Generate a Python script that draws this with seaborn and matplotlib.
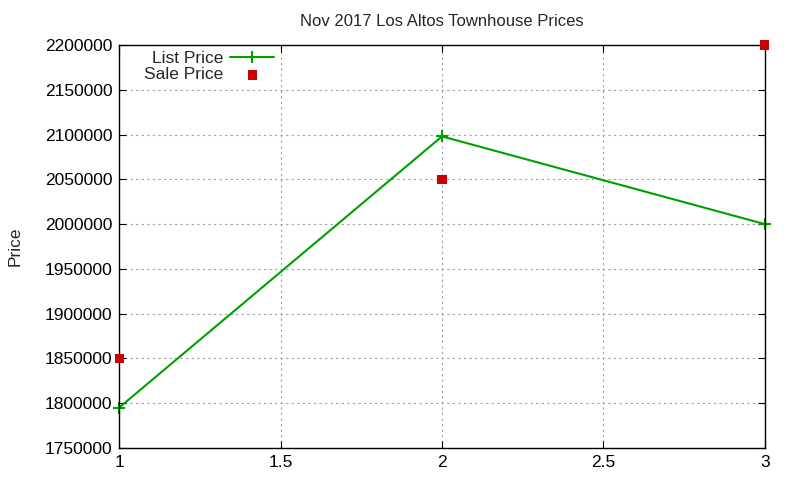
import pandas as pd
import seaborn as sns
import matplotlib.pyplot as plt

x_vals = [1, 2, 3]
list_price = [1795000, 2098000, 2000000]
sale_price = [1850000, 2050000, 2200000]

df = pd.DataFrame({'x': x_vals, 'list': list_price, 'sale': sale_price})

sns.set_style('white')
plt.rcParams['font.family'] = ['Liberation Sans', 'DejaVu Sans']

fig = plt.figure(figsize=(8, 4.8), dpi=100)
ax = fig.add_axes([0.149, 0.067, 0.807, 0.839])

sns.lineplot(data=df, x='x', y='list', ax=ax, color='#00a000', lw=1.5,
             marker='+', markersize=9, markeredgewidth=1.5,
             markeredgecolor='#00a000', label='List Price', clip_on=False)
sns.scatterplot(data=df, x='x', y='sale', ax=ax, color='#cc0000', marker='s',
                s=45, edgecolor='none', label='Sale Price', zorder=5, clip_on=False)

ax.set_xlim(1, 3)
ax.set_ylim(1750000, 2200000)
ax.set_xticks([1, 1.5, 2, 2.5, 3])
ax.set_xticklabels(['1', '1.5', '2', '2.5', '3'])
ax.set_yticks(range(1750000, 2200001, 50000))
ax.set_yticklabels([str(v) for v in range(1750000, 2200001, 50000)])
ax.grid(True, color='#a0a0a0', linestyle=(0, (2, 3)), lw=0.8)
ax.tick_params(direction='in', length=5, labelsize=12.5, colors='black',
               top=True, right=True, bottom=True, left=True, pad=5)
for s in ax.spines.values():
    s.set_color('black')
    s.set_linewidth(1)

ax.set_xlabel('')
ax.set_ylabel('Price', fontsize=12.5)
ax.yaxis.set_label_coords(-0.15, 0.5)
ax.set_title('Nov 2017 Los Altos Townhouse Prices', fontsize=12, pad=14)

ax.legend(loc='upper left', bbox_to_anchor=(0.02, 1.015), frameon=False,
          markerfirst=False, fontsize=12.5, handlelength=2.5,
          labelspacing=0.05, borderaxespad=0.3, handletextpad=0.4)

plt.savefig('out.png')
